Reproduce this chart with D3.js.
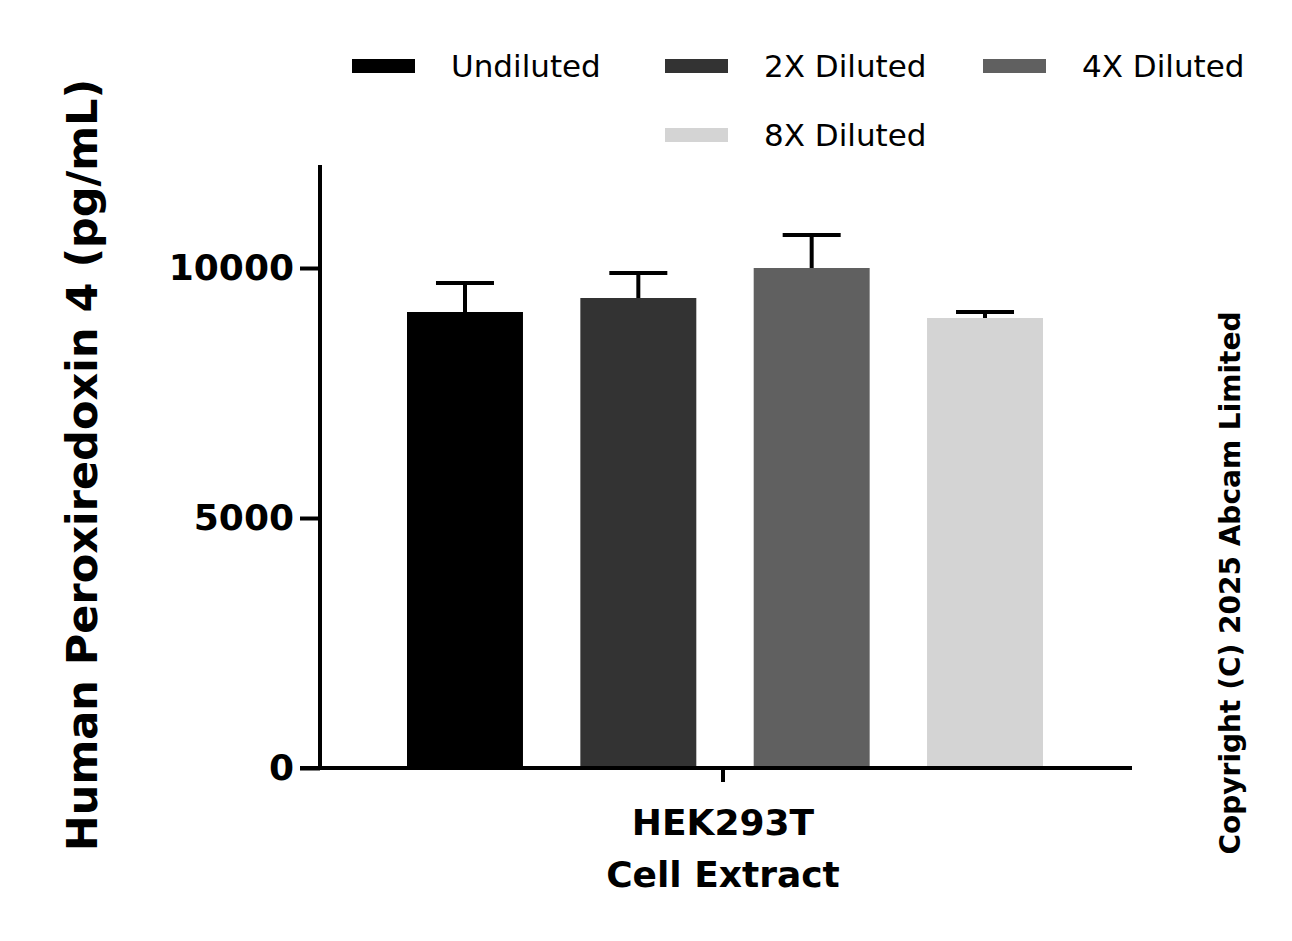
<!DOCTYPE html>
<html><head><meta charset="utf-8">
<script src="https://cdn.jsdelivr.net/npm/d3@7.9.0/dist/d3.min.js"></script>
<style>body{margin:0;background:#fff}text{font-family:"DejaVu Sans",sans-serif}</style>
</head><body><svg width="1292" height="941"></svg>
<script>
const series = ['Undiluted', '2X Diluted', '4X Diluted', '8X Diluted'];
const means = [9120, 9400, 10000, 9000];
const errs = [580, 500, 660, 120];
const colors = ['#000000', '#333333', '#606060', '#d4d4d4'];
const yTicks = [0, 5000, 10000];

const svg = d3.select('svg');
const y = d3.scaleLinear().domain([0, 12000]).range([768, 168]);
const x = d3.scaleBand().domain(series).range([407, 1043]).paddingInner(0.331).paddingOuter(0);

// bars
svg.selectAll('rect.bar').data(series).join('rect')
  .attr('x', d => x(d)).attr('width', x.bandwidth())
  .attr('y', (d, i) => y(means[i])).attr('height', (d, i) => y(0) - y(means[i]))
  .attr('fill', (d, i) => colors[i]);

// error bars (upper only)
series.forEach((d, i) => {
  const cx = x(d) + x.bandwidth() / 2;
  svg.append('line').attr('x1', cx).attr('x2', cx)
    .attr('y1', y(means[i])).attr('y2', y(means[i] + errs[i]))
    .attr('stroke', '#000').attr('stroke-width', 4);
  svg.append('line').attr('x1', cx - 29).attr('x2', cx + 29)
    .attr('y1', y(means[i] + errs[i])).attr('y2', y(means[i] + errs[i]))
    .attr('stroke', '#000').attr('stroke-width', 4);
});

// y axis
const yAxis = svg.append('g').attr('transform', 'translate(320,0)')
  .call(d3.axisLeft(y).tickValues(yTicks).tickFormat(d3.format('d')).tickSize(20).tickPadding(6));
yAxis.select('.domain').attr('stroke-width', 4).attr('d', 'M0,165V768');
yAxis.selectAll('.tick line').attr('stroke-width', 4);
yAxis.selectAll('.tick text').attr('font-size', 36).attr('font-weight', 'bold').attr('fill', '#000')
  .attr('font-family', '"DejaVu Sans",sans-serif');

// x axis
svg.append('line').attr('x1', 300).attr('x2', 1132).attr('y1', 768).attr('y2', 768)
  .attr('stroke', '#000').attr('stroke-width', 4);
svg.append('line').attr('x1', 723).attr('x2', 723).attr('y1', 768).attr('y2', 782)
  .attr('stroke', '#000').attr('stroke-width', 4);
svg.append('text').attr('x', 723).attr('y', 835).attr('text-anchor', 'middle')
  .attr('font-size', 36).attr('font-weight', 'bold').text('HEK293T');
svg.append('text').attr('x', 723).attr('y', 887).attr('text-anchor', 'middle')
  .attr('font-size', 36).attr('font-weight', 'bold').text('Cell Extract');

// y title
svg.append('text').attr('transform', 'translate(97,465) rotate(-90)').attr('text-anchor', 'middle')
  .attr('font-size', 43).attr('font-weight', 'bold').text('Human Peroxiredoxin 4 (pg/mL)');

// legend
const legPos = [[352, 66], [665, 66], [983, 66], [665, 135]];
series.forEach((d, i) => {
  const [lx, ly] = legPos[i];
  svg.append('rect').attr('x', lx).attr('y', ly - 7).attr('width', 63).attr('height', 14).attr('fill', colors[i]);
  svg.append('text').attr('x', lx + 99).attr('y', ly + 11).attr('font-size', 31).text(d);
});

// copyright
svg.append('text').attr('transform', 'translate(1240,583) rotate(-90)').attr('text-anchor', 'middle')
  .attr('font-size', 28).attr('font-weight', 'bold').attr('font-family', '"Liberation Sans",Arial,sans-serif')
  .text('Copyright (C) 2025 Abcam Limited');
</script></body></html>
